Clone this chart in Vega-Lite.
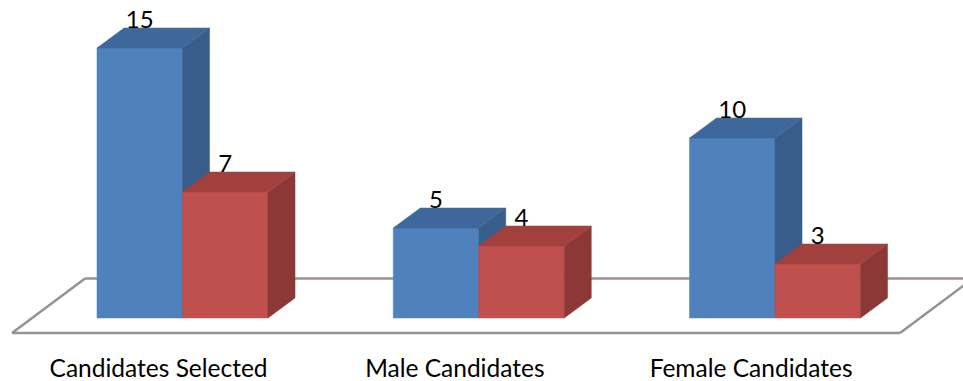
{
  "$schema": "https://vega.github.io/schema/vega-lite/v6.json",
  "width": 963,
  "height": 381,
  "padding": 0,
  "autosize": {"type": "none"},
  "background": "white",
  "config": {"view": {"stroke": null}},
  "data": {
    "values": [
      {"category": "Candidates Selected", "series": "Series 1", "value": 15},
      {"category": "Candidates Selected", "series": "Series 2", "value": 7},
      {"category": "Male Candidates", "series": "Series 1", "value": 5},
      {"category": "Male Candidates", "series": "Series 2", "value": 4},
      {"category": "Female Candidates", "series": "Series 1", "value": 10},
      {"category": "Female Candidates", "series": "Series 2", "value": 3}
    ]
  },
  "transform": [
    {"calculate": "indexof(['Candidates Selected','Male Candidates','Female Candidates'], datum.category)", "as": "g"},
    {"calculate": "datum.g * 3.465 + (datum.series == 'Series 1' ? 0 : 1)", "as": "x0"},
    {"calculate": "datum.x0 + 1", "as": "x1"},
    {"calculate": "datum.x0 + 0.5", "as": "xc"},
    {"calculate": "datum.g * 3.465 + 0.72", "as": "xl"},
    {"calculate": "[0, 1]", "as": "k"},
    {"flatten": ["k"]},
    {"calculate": "datum.x1 + datum.k * 0.316", "as": "sx"},
    {"calculate": "datum.k * 1.111", "as": "sb"},
    {"calculate": "datum.value + datum.k * 1.111", "as": "st"},
    {"calculate": "datum.x0 + datum.k * 0.316", "as": "tx0"},
    {"calculate": "datum.x1 + datum.k * 0.316", "as": "tx1"}
  ],
  "layer": [
    {
      "data": {"values": [{}]},
      "transform": [],
      "mark": {"type": "rule", "stroke": "#939393", "strokeWidth": 2.5, "clip": true},
      "encoding": {
        "x": {"datum": -0.994, "type": "quantitative", "scale": {"domain": [-1.1345, 10.1287], "nice": false, "zero": false}, "axis": null},
        "y": {"datum": -0.833, "type": "quantitative", "scale": {"domain": [-3.5, 17.667], "nice": false, "zero": false}, "axis": null},
        "x2": {"datum": 9.392},
        "y2": {"datum": -0.833}
      }
    },
    {
      "data": {"values": [{}]},
      "transform": [],
      "mark": {"type": "rule", "stroke": "#939393", "strokeWidth": 2.5, "clip": true},
      "encoding": {
        "x": {"datum": 9.392, "type": "quantitative", "scale": {"domain": [-1.1345, 10.1287], "nice": false, "zero": false}, "axis": null},
        "y": {"datum": -0.833, "type": "quantitative", "scale": {"domain": [-3.5, 17.667], "nice": false, "zero": false}, "axis": null},
        "x2": {"datum": 10.246},
        "y2": {"datum": 2.194}
      }
    },
    {
      "data": {"values": [{}]},
      "transform": [],
      "mark": {"type": "rule", "stroke": "#A09090", "strokeWidth": 2.5, "clip": true},
      "encoding": {
        "x": {"datum": -0.14, "type": "quantitative", "scale": {"domain": [-1.1345, 10.1287], "nice": false, "zero": false}, "axis": null},
        "y": {"datum": 2.194, "type": "quantitative", "scale": {"domain": [-3.5, 17.667], "nice": false, "zero": false}, "axis": null},
        "x2": {"datum": 10.246},
        "y2": {"datum": 2.194}
      }
    },
    {
      "data": {"values": [{}]},
      "transform": [],
      "mark": {"type": "rule", "stroke": "#939393", "strokeWidth": 2.5, "clip": true},
      "encoding": {
        "x": {"datum": -0.994, "type": "quantitative", "scale": {"domain": [-1.1345, 10.1287], "nice": false, "zero": false}, "axis": null},
        "y": {"datum": -0.833, "type": "quantitative", "scale": {"domain": [-3.5, 17.667], "nice": false, "zero": false}, "axis": null},
        "x2": {"datum": -0.14},
        "y2": {"datum": 2.194}
      }
    },
    {
      "transform": [{"filter": "datum.series == 'Series 1' && datum.k == 0"}],
      "mark": {"type": "rect", "fill": "#4F81BD", "stroke": "#4F81BD", "strokeWidth": 0.5},
      "encoding": {
        "x": {"field": "x0", "type": "quantitative", "scale": {"domain": [-1.1345, 10.1287], "nice": false, "zero": false}, "axis": null},
        "x2": {"field": "x1"},
        "y": {"field": "value", "type": "quantitative", "scale": {"domain": [-3.5, 17.667], "nice": false, "zero": false}, "axis": null},
        "y2": {"datum": 0}
      }
    },
    {
      "transform": [{"filter": "datum.series == 'Series 1'"}],
      "mark": {"type": "area", "fill": "#385D8A", "stroke": "#385D8A", "strokeWidth": 0.5},
      "encoding": {
        "x": {"field": "sx", "type": "quantitative", "scale": {"domain": [-1.1345, 10.1287], "nice": false, "zero": false}, "axis": null},
        "y": {"field": "sb", "type": "quantitative", "stack": null, "scale": {"domain": [-3.5, 17.667], "nice": false, "zero": false}, "axis": null},
        "y2": {"field": "st"},
        "detail": {"field": "category"}
      }
    },
    {
      "transform": [{"filter": "datum.series == 'Series 1'"}],
      "mark": {"type": "area", "orient": "horizontal", "fill": "#3E679B", "stroke": "#3E679B", "strokeWidth": 0.5},
      "encoding": {
        "y": {"field": "st", "type": "quantitative", "scale": {"domain": [-3.5, 17.667], "nice": false, "zero": false}, "axis": null},
        "x": {"field": "tx0", "type": "quantitative", "stack": null, "scale": {"domain": [-1.1345, 10.1287], "nice": false, "zero": false}, "axis": null},
        "x2": {"field": "tx1"},
        "detail": {"field": "category"}
      }
    },
    {
      "transform": [{"filter": "datum.series == 'Series 2' && datum.k == 0"}],
      "mark": {"type": "rect", "fill": "#C0504D", "stroke": "#C0504D", "strokeWidth": 0.5},
      "encoding": {
        "x": {"field": "x0", "type": "quantitative", "scale": {"domain": [-1.1345, 10.1287], "nice": false, "zero": false}, "axis": null},
        "x2": {"field": "x1"},
        "y": {"field": "value", "type": "quantitative", "scale": {"domain": [-3.5, 17.667], "nice": false, "zero": false}, "axis": null},
        "y2": {"datum": 0}
      }
    },
    {
      "transform": [{"filter": "datum.series == 'Series 2'"}],
      "mark": {"type": "area", "fill": "#8C3836", "stroke": "#8C3836", "strokeWidth": 0.5},
      "encoding": {
        "x": {"field": "sx", "type": "quantitative", "scale": {"domain": [-1.1345, 10.1287], "nice": false, "zero": false}, "axis": null},
        "y": {"field": "sb", "type": "quantitative", "stack": null, "scale": {"domain": [-3.5, 17.667], "nice": false, "zero": false}, "axis": null},
        "y2": {"field": "st"},
        "detail": {"field": "category"}
      }
    },
    {
      "transform": [{"filter": "datum.series == 'Series 2'"}],
      "mark": {"type": "area", "orient": "horizontal", "fill": "#A2403D", "stroke": "#A2403D", "strokeWidth": 0.5},
      "encoding": {
        "y": {"field": "st", "type": "quantitative", "scale": {"domain": [-3.5, 17.667], "nice": false, "zero": false}, "axis": null},
        "x": {"field": "tx0", "type": "quantitative", "stack": null, "scale": {"domain": [-1.1345, 10.1287], "nice": false, "zero": false}, "axis": null},
        "x2": {"field": "tx1"},
        "detail": {"field": "category"}
      }
    },
    {
      "transform": [{"filter": "datum.k == 0"}],
      "mark": {"type": "text", "font": "Lato", "fontSize": 24, "color": "#000000", "align": "center", "baseline": "alphabetic", "dy": -20},
      "encoding": {
        "x": {"field": "xc", "type": "quantitative", "scale": {"domain": [-1.1345, 10.1287], "nice": false, "zero": false}, "axis": null},
        "y": {"field": "value", "type": "quantitative", "scale": {"domain": [-3.5, 17.667], "nice": false, "zero": false}, "axis": null},
        "text": {"field": "value", "type": "quantitative"}
      }
    },
    {
      "transform": [{"filter": "datum.k == 0 && datum.series == 'Series 1'"}],
      "mark": {"type": "text", "font": "Lato", "fontSize": 24.5, "color": "#000000", "align": "center", "baseline": "alphabetic"},
      "encoding": {
        "x": {"field": "xl", "type": "quantitative", "scale": {"domain": [-1.1345, 10.1287], "nice": false, "zero": false}, "axis": null},
        "y": {"datum": -3.28, "type": "quantitative", "scale": {"domain": [-3.5, 17.667], "nice": false, "zero": false}, "axis": null},
        "text": {"field": "category", "type": "nominal"}
      }
    }
  ]
}
